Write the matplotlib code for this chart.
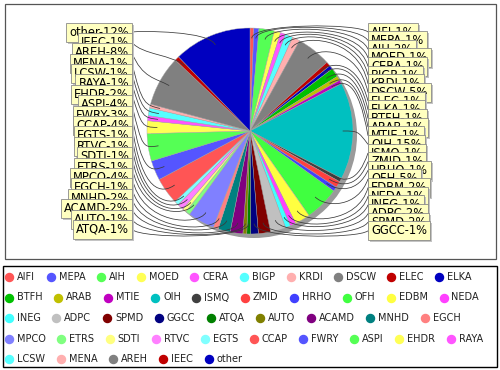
import numpy as np
import matplotlib
matplotlib.use("Agg")
import matplotlib.pyplot as plt
from matplotlib.patches import Circle, Rectangle, PathPatch
from matplotlib.path import Path

# ---------------- data ----------------
names = ["AIFI", "MEPA", "AIH", "MOED", "CERA", "BIGP", "KRDI", "DSCW", "ELEC", "ELKA",
         "BTFH", "ARAB", "MTIE", "OIH", "ISMQ", "ZMID", "HRHO", "OFH", "EDBM", "NEDA",
         "INEG", "ADPC", "SPMD", "GGCC", "ATQA", "AUTO", "ACAMD", "MNHD", "EGCH",
         "MPCO", "ETRS", "SDTI", "RTVC", "EGTS", "CCAP", "FWRY", "ASPI", "EHDR", "RAYA",
         "LCSW", "MENA", "AREH", "IEEC", "other"]
values = [0.6, 0.8, 2.4, 1.0, 0.8, 1.2, 1.2, 5.4, 0.7, 0.6,
          1.4, 0.7, 0.6, 15.2, 0.6, 1.0, 0.7, 5.4, 2.4, 0.9,
          0.8, 2.4, 1.9, 1.2, 0.6, 0.6, 2.0, 1.9, 0.8,
          4.2, 0.7, 0.6, 1.0, 0.7, 4.2, 3.1, 4.3, 2.0, 0.8,
          1.2, 0.6, 7.9, 0.7, 12.2]
legend_rows = [10, 10, 9, 10, 5]

palette = ["#FF5555", "#5555FF", "#55FF55", "#FFFF55", "#FF55FF", "#55FFFF",
           "#FFAFAF", "#808080", "#C00000", "#0000C0", "#00C000", "#C0C000",
           "#C000C0", "#00C0C0", "#404040", "#FF4040", "#4040FF", "#40FF40",
           "#FFFF40", "#FF40FF", "#40FFFF", "#C0C0C0", "#800000", "#000080",
           "#008000", "#808000", "#800080", "#008080", "#FF8080", "#8080FF",
           "#80FF80", "#FFFF80", "#FF80FF", "#80FFFF"]
cols = [palette[i % len(palette)] for i in range(len(names))]

# ---------------- figure ----------------
fig = plt.figure(figsize=(5, 3.7), dpi=100)
ax = fig.add_axes([0, 0, 1, 1])
ax.set_axis_off()

cx, cy, R = 250, 131, 103

# plot border & legend border
ax.add_patch(Rectangle((5, 4), 491, 255, fc="white", ec="#555555", lw=0.9, zorder=0))
ax.add_patch(Rectangle((3, 266), 494, 101, fc="white", ec="black", lw=1.0, zorder=0))

# pie shadow
ax.add_patch(Circle((cx + 4, cy + 4), R, fc="#9a9a9a", ec="none", zorder=1))
ax.pie(values, colors=cols, startangle=-90, counterclock=True, center=(cx, cy),
       radius=R, wedgeprops=dict(edgecolor="#a8a8a8", linewidth=0.3, zorder=2))

ax.set_xlim(0, 500)
ax.set_ylim(370, 0)
ax.set_aspect("equal")

vals = np.array(values, dtype=float)
total = vals.sum()
cum = np.cumsum(vals) - vals / 2
phi = np.radians(360 * cum / total)  # clockwise from 12 o'clock
pct = [int(round(v / total * 100)) for v in vals]

left_idx = [i for i in range(len(vals)) if np.degrees(phi[i]) > 180]
right_idx = [i for i in range(len(vals)) if np.degrees(phi[i]) <= 180]
left_idx = sorted(left_idx, key=lambda i: -phi[i])
right_idx = sorted(right_idx, key=lambda i: phi[i])

left_y = np.linspace(32, 229.5, len(left_idx))
right_y = np.linspace(32, 230.8, len(right_idx))

R_link = 108
link_pct = 0.9
gap = 10
fs_lab = 8.3
pad_px = 3.0


def draw_label(i, ty, side, z):
    d = np.array([np.sin(phi[i]), -np.cos(phi[i])])
    link = np.array([cx, cy]) + d * R * link_pct
    elbow = np.array([cx, cy]) + d * R_link
    if side == "left":
        anchor_x = cx - R_link
        tx = anchor_x - gap
    else:
        anchor_x = cx + R_link
        tx = anchor_x + gap
    verts = [(tx, ty), (anchor_x, elbow[1]), (elbow[0], elbow[1]), (link[0], link[1])]
    codes = [Path.MOVETO, Path.CURVE4, Path.CURVE4, Path.CURVE4]
    ax.add_patch(PathPatch(Path(verts, codes), fc="none", ec="#3a3a3a", lw=0.55, zorder=5))
    txt = f"{names[i]}-{pct[i]}%"
    pad = pad_px / (fs_lab * 100 / 72)
    if side == "left":
        x_text, ha = tx - pad_px, "right"
    else:
        x_text, ha = tx + pad_px, "left"
    ax.text(x_text + 2, ty + 2, txt, fontsize=fs_lab, ha=ha, va="center", color=(0, 0, 0, 0),
            bbox=dict(boxstyle=f"square,pad={pad}", fc="#c4c4c4", ec="none"), zorder=z)
    ax.text(x_text, ty, txt, fontsize=fs_lab, ha=ha, va="center", color="black",
            bbox=dict(boxstyle=f"square,pad={pad}", fc="#FFFFC0", ec="#8a8a8a", lw=0.6),
            zorder=z + 1)


z = 10
for k, i in enumerate(left_idx):
    draw_label(i, left_y[k], "left", z)
    z += 2
for k, i in enumerate(right_idx):
    draw_label(i, right_y[k], "right", z)
    z += 2

# ---------------- legend ----------------
fig.canvas.draw()
renderer = fig.canvas.get_renderer()
fs_leg = 7.0
row_y = [277, 297.5, 318, 338.5, 359]
item_gap = 11.5
k = 0
for r, n in enumerate(legend_rows):
    x = 5
    for j in range(n):
        ax.plot([x + 4], [row_y[r]], marker="o", ms=5.8, mfc=cols[k], mec=cols[k],
                ls="none", zorder=20)
        t = ax.text(x + 12, row_y[r], names[k], fontsize=fs_leg, ha="left", va="center",
                    color="#222222", zorder=20)
        bb = t.get_window_extent(renderer=renderer)
        x = x + 12 + bb.width + item_gap
        k += 1

fig.savefig("out.png", dpi=100)
